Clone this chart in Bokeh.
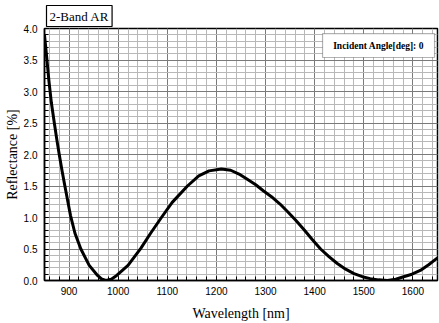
from bokeh.plotting import figure
from bokeh.models import Range1d, SingleIntervalTicker, PrintfTickFormatter, Label, BoxAnnotation, Title
from bokeh.embed import file_html
from bokeh.resources import INLINE

wavelength = [850, 855, 859, 864, 870, 875, 880, 886, 891, 900, 903, 912, 924, 941, 958, 966,
              975, 986, 997, 1020, 1046, 1066, 1088, 1110, 1141, 1164, 1185, 1210, 1229, 1246,
              1262, 1280, 1296, 1312, 1330, 1344, 1361, 1378, 1395, 1412, 1429, 1446, 1463,
              1480, 1497, 1513, 1530, 1548, 1565, 1581, 1598, 1615, 1632, 1650]
reflectance = [3.90, 3.50, 3.17, 2.82, 2.50, 2.24, 2.00, 1.73, 1.52, 1.15, 1.03, 0.75, 0.50, 0.24,
               0.08, 0.025, 0.00, 0.02, 0.08, 0.24, 0.51, 0.75, 1.00, 1.24, 1.50, 1.66, 1.74,
               1.77, 1.75, 1.69, 1.61, 1.52, 1.42, 1.33, 1.21, 1.10, 0.96, 0.81, 0.65, 0.50,
               0.38, 0.27, 0.18, 0.11, 0.06, 0.03, 0.01, 0.00, 0.02, 0.06, 0.10, 0.16, 0.25, 0.36]

title_text = "2-Band AR"
legend_text = "Incident Angle[deg]: 0"
x_label = "Wavelength [nm]"
y_label = "Reflectance [%]"

title = Title(text=title_text, align="left", offset=2, standoff=4,
              text_font="Liberation Serif", text_font_size="13px", text_font_style="normal",
              text_color="black", padding=3, border_line_color="black", border_line_width=1.2,
              background_fill_color="white")

p = figure(width=439, height=323, output_backend="svg", toolbar_location=None, title=title,
           x_range=Range1d(850, 1650), y_range=Range1d(0, 4),
           min_border_left=44, min_border_right=2, min_border_top=28, min_border_bottom=41)
p.background_fill_color = "white"
p.border_fill_color = "white"
p.outline_line_color = "black"
p.outline_line_width = 1.5

p.xaxis.ticker = SingleIntervalTicker(interval=100, num_minor_ticks=5)
p.yaxis.ticker = SingleIntervalTicker(interval=0.5, num_minor_ticks=5)
p.yaxis.formatter = PrintfTickFormatter(format="%.1f")

for g in (p.xgrid, p.ygrid):
    g.grid_line_color = "#7a7a7a"
    g.grid_line_width = 1
    g.minor_grid_line_color = "#b8b8b8"
    g.minor_grid_line_width = 1

for ax in (p.xaxis, p.yaxis):
    ax.axis_line_color = "black"
    ax.axis_line_width = 1.5
    ax.major_tick_in = 4
    ax.major_tick_out = 0
    ax.minor_tick_in = 4
    ax.minor_tick_out = 0
    ax.major_tick_line_color = "black"
    ax.minor_tick_line_color = "black"
    ax.major_label_text_font = "Liberation Sans"
    ax.major_label_text_font_size = "10px"
    ax.major_label_text_color = "black"
    ax.axis_label_text_font = "Liberation Serif"
    ax.axis_label_text_font_size = "14px"
    ax.axis_label_text_font_style = "normal"
    ax.axis_label_text_color = "black"

p.xaxis.axis_label = x_label
p.yaxis.axis_label = y_label
p.xaxis.major_label_standoff = 6
p.yaxis.major_label_standoff = 7
p.xaxis.axis_label_standoff = 8
p.yaxis.axis_label_standoff = 1

p.line(wavelength, reflectance, line_width=3, line_color="black", line_join="round")

box = BoxAnnotation(left=1416, right=1644, bottom=3.54, top=3.92,
                    fill_color="white", fill_alpha=1.0, line_color="black", line_width=1.2)
p.add_layout(box)
p.add_layout(Label(x=1530, y=3.73, text=legend_text, text_align="center", text_baseline="middle",
                   text_font="Liberation Serif", text_font_size="9.5px", text_font_style="bold",
                   text_color="black"))

open("out.html", "w").write(file_html(p, INLINE))
